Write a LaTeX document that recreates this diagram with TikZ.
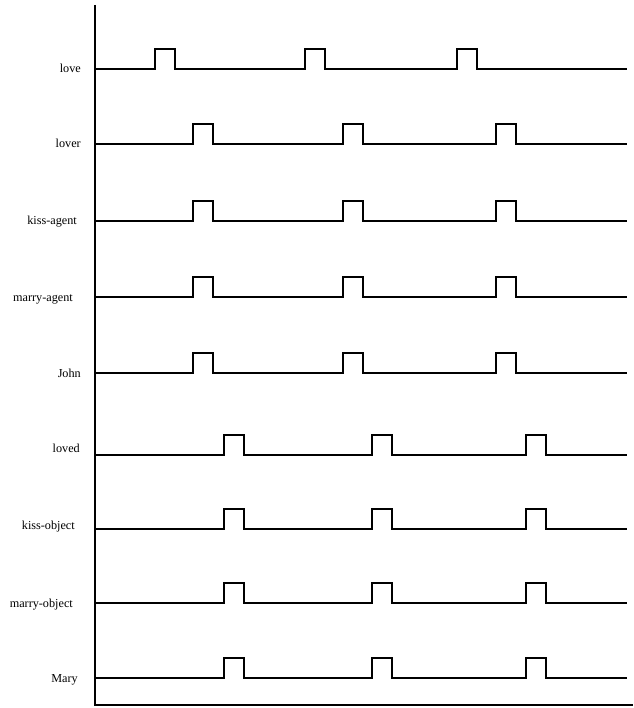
\documentclass[tikz,border=0pt]{standalone}
\usepackage{fontspec}
\setmainfont{Liberation Serif}
\usetikzlibrary{positioning}
\tikzset{
  trace/.style    = {line width=1.5pt, black, line join=miter},
  axisline/.style = {line width=1.5pt, black},
  siglabel/.style = {anchor=base east, inner sep=0pt, font=\fontsize{12.2}{14}\selectfont},
}

\begin{document}
\begin{tikzpicture}[x=1pt, y=-1pt]

\useasboundingbox (0,0) rectangle (633,708);

% axes
\draw[axisline] (95,5) -- (95,705) -- (633,705);

% rows: label / label end / label baseline / trace baseline / three pulse starts
\foreach \lbl/\lx/\ly/\yy/\pa/\pb/\pc [count=\i] in {
    love/81/73/69/155/305/457,
    lover/81/148/144/193/343/496,
    kiss-agent/77/225/221/193/343/496,
    marry-agent/73/301/297/193/343/496,
    John/81/377/373/193/343/496,
    loved/80/452/455/224/372/526,
    kiss-object/75/529/529/224/372/526,
    marry-object/73/607/603/224/372/526,
    Mary/78/682/678/224/372/526} {
  \node[siglabel] (lbl\i) at (\lx,\ly) {\lbl};
  \draw[trace] (95,\yy) -- (\pa,\yy) -- ++(0,-20) -- ++(20,0) -- ++(0,20)
    -- (\pb,\yy) -- ++(0,-20) -- ++(20,0) -- ++(0,20)
    -- (\pc,\yy) -- ++(0,-20) -- ++(20,0) -- ++(0,20)
    -- (627,\yy);
}

\end{tikzpicture}
\end{document}
